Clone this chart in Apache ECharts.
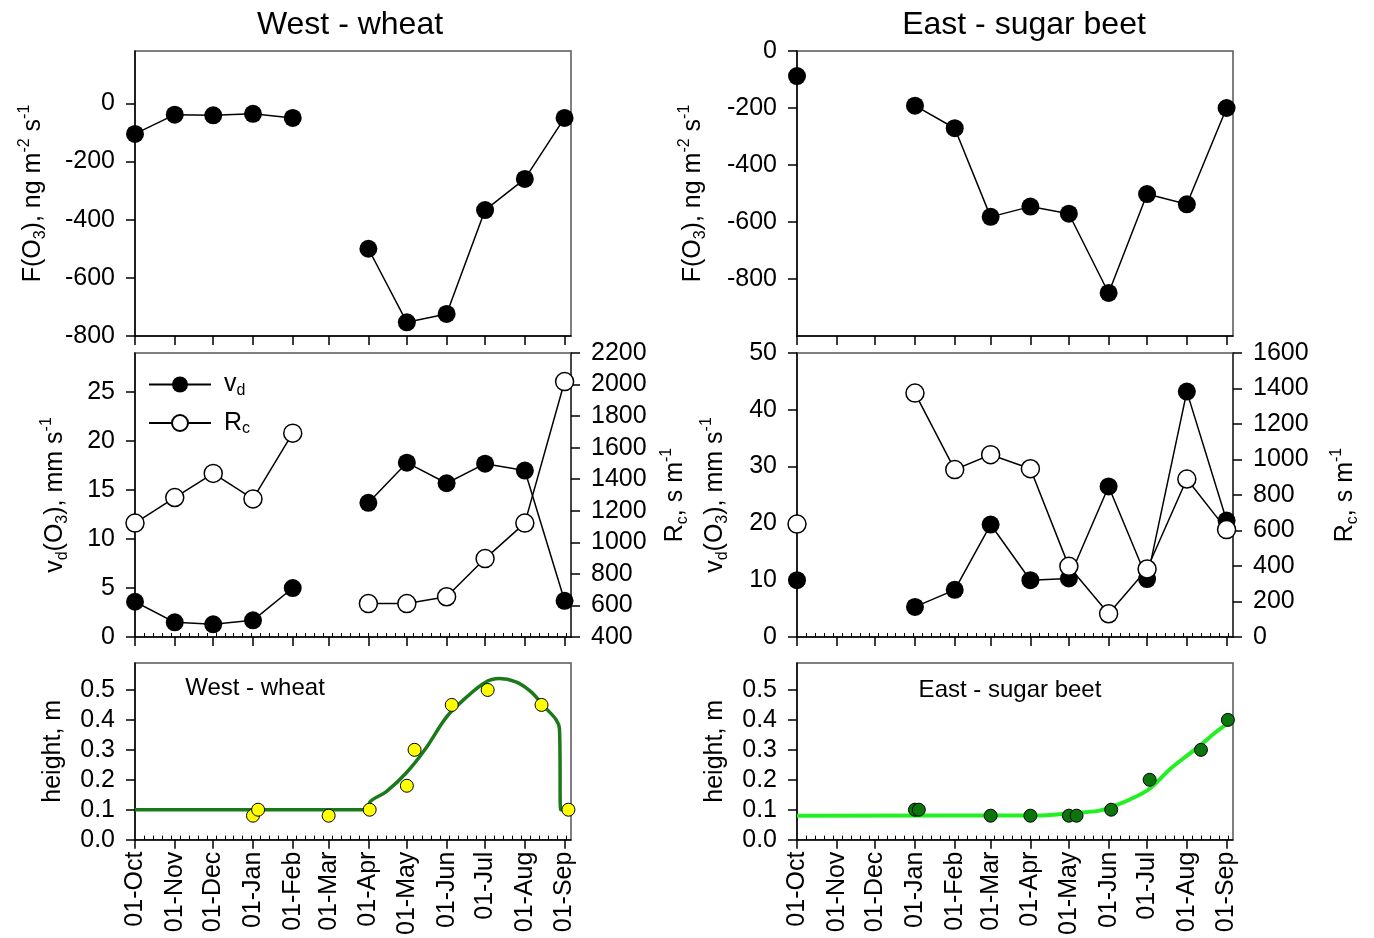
<!DOCTYPE html>
<html>
<head>
<meta charset="utf-8">
<script src="https://cdn.jsdelivr.net/npm/echarts@6/dist/echarts.min.js"></script>
<style>
  html, body { margin: 0; padding: 0; background: #fff; }
  #chart { width: 1374px; height: 938px; }
</style>
</head>
<body>
<div id="chart"></div>
<script>
// months the fluxes are given for (monthly means plotted at the 1st)
var months = ['2010-10-01', '2010-11-01', '2010-12-01', '2011-01-01', '2011-02-01', '2011-03-01',
  '2011-04-01', '2011-05-01', '2011-06-01', '2011-07-01', '2011-08-01', '2011-09-01'];

// West - wheat
var westFlux = [-105, -39, -41, -36, -50, null, -500, -753, -724, -367, -260, -50];
var westVd = [3.6, 1.5, 1.3, 1.7, 5.0, null, 13.7, 17.8, 15.7, 17.7, 17.0, 3.7];
var westRc = [1122, 1284, 1437, 1275, 1692, null, 612, 612, 655, 897, 1122, 2019];

// East - sugar beet
var eastFlux = [-88, null, null, -192, -271, -582, -546, -571, -849, -502, -538, -200];
var eastVd = [10.0, null, null, 5.3, 8.3, 19.8, 10.0, 10.3, 26.5, 10.2, 43.2, 20.5];
var eastRc = [636, null, null, 1374, 943, 1027, 948, 398, 131, 383, 890, 605];

// canopy height, observations
var westObsDates = ['2011-01-01', '2011-01-05', '2011-03-01', '2011-04-02', '2011-05-01',
  '2011-05-07', '2011-06-05', '2011-07-03', '2011-08-14', '2011-09-04'];
var westObsH = [0.08, 0.10, 0.08, 0.10, 0.18, 0.30, 0.45, 0.50, 0.45, 0.10];
var eastObsDates = ['2011-01-01', '2011-01-04', '2011-03-01', '2011-04-01', '2011-05-01',
  '2011-05-07', '2011-06-03', '2011-07-03', '2011-08-12', '2011-09-02'];
var eastObsH = [0.10, 0.10, 0.08, 0.08, 0.08, 0.08, 0.10, 0.20, 0.30, 0.40];

// canopy height, fitted curves
var westFitDates = ['2010-10-01', '2011-04-01', '2011-04-02', '2011-04-15', '2011-05-01', '2011-05-15',
  '2011-06-01', '2011-06-15', '2011-07-01', '2011-07-12', '2011-07-25', '2011-08-05', '2011-08-14',
  '2011-08-28', '2011-08-29', '2011-09-01'];
var westFitH = [0.10, 0.10, 0.125, 0.16, 0.225, 0.30, 0.41, 0.47, 0.525, 0.538, 0.527, 0.497, 0.455,
  0.37, 0.10, 0.10];
var eastFitDates = ['2010-10-01', '2011-04-10', '2011-05-04', '2011-05-24', '2011-06-03', '2011-06-18',
  '2011-07-03', '2011-07-19', '2011-08-04', '2011-08-12', '2011-08-23', '2011-09-04'];
var eastFitH = [0.08, 0.081, 0.089, 0.096, 0.109, 0.135, 0.17, 0.236, 0.29, 0.317, 0.357, 0.395];

// x axis ticks
var tickDates = months;
var tickLabels = ['01-Oct', '01-Nov', '01-Dec', '01-Jan', '01-Feb', '01-Mar', '01-Apr', '01-May',
  '01-Jun', '01-Jul', '01-Aug', '01-Sep'];
var xStart = '2010-10-01';
var xEnd = '2011-09-06';

var FONT = '"Liberation Sans", Arial, sans-serif';
var chart = echarts.init(document.getElementById('chart'));

// dates -> days since xStart (the x axis is a plain value axis in days)
function day(s) {
  var p = s.split('-');
  var a = Date.UTC(+p[0], +p[1] - 1, +p[2]);
  var q = xStart.split('-');
  var b = Date.UTC(+q[0], +q[1] - 1, +q[2]);
  return Math.round((a - b) / 86400000);
}
var tickDays = tickDates.map(day);
// weekly minor ticks
var weekDays = [];
for (var w = 7; w < day(xEnd); w += 7) weekDays.push(w);

function pairs(dates, vals) {
  return dates.map(function (d, i) { return [day(d), vals[i] == null ? '-' : vals[i]]; });
}

var grids = [
  { left: 135, top: 51, width: 436, height: 285 },
  { left: 135, top: 353, width: 436, height: 284 },
  { left: 135, top: 663, width: 436, height: 180 },
  { left: 797, top: 51, width: 436, height: 285 },
  { left: 797, top: 353, width: 436, height: 284 },
  { left: 797, top: 663, width: 436, height: 180 }
].map(function (g) {
  g.show = true; g.borderColor = '#555'; g.borderWidth = 1.5; g.containLabel = false;
  return g;
});

function xAxis(gi, labels) {
  return {
    type: 'value', gridIndex: gi, min: 0, max: day(xEnd),
    axisLine: { onZero: false, lineStyle: { color: '#000', width: 1.5 } },
    axisTick: { show: true, customValues: tickDays, length: 9, lineStyle: { color: '#000', width: 1.5 } },
    axisLabel: {
      show: labels, customValues: tickDays, rotate: 90, margin: 12,
      fontSize: 25, color: '#000', fontFamily: FONT,
      formatter: function (v) {
        var i = tickDays.indexOf(Math.round(v));
        return i < 0 ? '' : tickLabels[i];
      }
    },
    splitLine: { show: false }
  };
}

// inner minor ticks along the bottom axis
function minorX(gi) {
  return {
    type: 'value', gridIndex: gi, min: 0, max: day(xEnd), position: 'bottom',
    axisLine: { show: false, onZero: false },
    axisTick: { show: true, inside: true, customValues: weekDays, length: 4, lineStyle: { color: '#000', width: 1 } },
    axisLabel: { show: false },
    splitLine: { show: false }
  };
}

var nameStyle = {
  fontSize: 25, color: '#000', fontFamily: FONT, lineHeight: 32,
  rich: {
    sub: { fontSize: 16, lineHeight: 14, verticalAlign: 'bottom', fontFamily: FONT, color: '#000' },
    sup: { fontSize: 16, lineHeight: 16, verticalAlign: 'top', fontFamily: FONT, color: '#000' }
  }
};

function yAxis(gi, o) {
  var ticks = [];
  for (var v = o.t0; v <= o.t1 + 1e-9; v += o.step) ticks.push(+v.toFixed(3));
  return {
    type: 'value', gridIndex: gi, min: o.min, max: o.max, position: o.pos || 'left',
    name: o.name, nameLocation: 'middle', nameRotate: 90, nameGap: o.gap, nameTextStyle: nameStyle,
    axisLine: { show: true, onZero: false, lineStyle: { color: o.pos === 'right' ? '#333' : '#000', width: 1.5 } },
    axisTick: { show: true, customValues: ticks, length: 9, lineStyle: { color: '#000', width: 1.5 } },
    axisLabel: {
      customValues: ticks, margin: 20, fontSize: 25, color: '#000', fontFamily: FONT,
      formatter: o.fmt || function (v) { return String(v); }
    },
    splitLine: { show: false }
  };
}

var fluxName = 'F(O{sub|3}), ng m{sup|-2} s{sup|-1}';
var vdName = 'v{sub|d}(O{sub|3}), mm s{sup|-1}';
var rcName = 'R{sub|c}, s m{sup|-1}';
var hName = 'height, m';
var hFmt = function (v) { return v.toFixed(1); };

var dotSeries = function (name, x, y, dates, vals, open) {
  return {
    name: name, type: 'line', xAxisIndex: x, yAxisIndex: y, data: pairs(dates, vals),
    symbol: 'circle', symbolSize: 18, connectNulls: false,
    lineStyle: { color: '#000', width: 1.5 },
    itemStyle: open ? { color: '#fff', borderColor: '#000', borderWidth: 1.5 } : { color: '#000' },
    z: open ? 4 : 3
  };
};

var option = {
  animation: false,
  backgroundColor: '#fff',
  textStyle: { fontFamily: FONT },
  grid: grids,
  xAxis: [xAxis(0, false), xAxis(1, false), xAxis(2, true), xAxis(3, false), xAxis(4, false), xAxis(5, true),
    minorX(1), minorX(2), minorX(4), minorX(5)],
  yAxis: [
    yAxis(0, { min: -800, max: 180, t0: -800, t1: 0, step: 200, name: fluxName, gap: 86 }),
    yAxis(1, { min: 0, max: 29, t0: 0, t1: 25, step: 5, name: vdName, gap: 64 }),
    yAxis(1, { min: 400, max: 2200, t0: 400, t1: 2200, step: 200, name: rcName, gap: 88, pos: 'right' }),
    yAxis(2, { min: 0, max: 0.59, t0: 0, t1: 0.5, step: 0.1, name: hName, gap: 66, fmt: hFmt }),
    yAxis(3, { min: -1000, max: 0, t0: -800, t1: 0, step: 200, name: fluxName, gap: 88 }),
    yAxis(4, { min: 0, max: 50, t0: 0, t1: 50, step: 10, name: vdName, gap: 66 }),
    yAxis(4, { min: 0, max: 1600, t0: 0, t1: 1600, step: 200, name: rcName, gap: 96, pos: 'right' }),
    yAxis(5, { min: 0, max: 0.59, t0: 0, t1: 0.5, step: 0.1, name: hName, gap: 66, fmt: hFmt })
  ],
  legend: {
    data: ['vd', 'Rc'], orient: 'vertical', left: 143, top: 367,
    itemWidth: 62, itemHeight: 20, itemGap: 12,
    formatter: function (n) { return n === 'vd' ? '{m|v}{s|d}' : '{m|R}{s|c}'; },
    textStyle: {
      rich: {
        m: { fontSize: 25, lineHeight: 28, color: '#000', fontFamily: FONT, padding: [0, 0, 0, 8] },
        s: { fontSize: 16, lineHeight: 12, verticalAlign: 'bottom', color: '#000', fontFamily: FONT }
      }
    }
  },
  graphic: [
    { type: 'text', x: 350, y: 25, style: { text: 'West - wheat', font: '32px ' + FONT, fill: '#000', textAlign: 'center', textVerticalAlign: 'middle' } },
    { type: 'text', x: 1024, y: 25, style: { text: 'East - sugar beet', font: '32px ' + FONT, fill: '#000', textAlign: 'center', textVerticalAlign: 'middle' } },
    { type: 'text', x: 255, y: 688, style: { text: 'West - wheat', font: '24px ' + FONT, fill: '#000', textAlign: 'center', textVerticalAlign: 'middle' } },
    { type: 'text', x: 1010, y: 690, style: { text: 'East - sugar beet', font: '24px ' + FONT, fill: '#000', textAlign: 'center', textVerticalAlign: 'middle' } }
  ],
  series: [
    dotSeries('F-west', 0, 0, months, westFlux, false),
    dotSeries('vd', 1, 1, months, westVd, false),
    dotSeries('Rc', 1, 2, months, westRc, true),
    {
      name: 'hfit-west', type: 'line', xAxisIndex: 2, yAxisIndex: 3, data: pairs(westFitDates, westFitH),
      symbol: 'none', smooth: 0.35, lineStyle: { color: '#1a7a1a', width: 3.5 }, z: 2
    },
    {
      name: 'hobs-west', type: 'scatter', xAxisIndex: 2, yAxisIndex: 3, data: pairs(westObsDates, westObsH),
      symbolSize: 13, itemStyle: { color: '#ffff00', opacity: 1, borderColor: '#000', borderWidth: 1 }, z: 3
    },
    dotSeries('F-east', 3, 4, months, eastFlux, false),
    dotSeries('vd-east', 4, 5, months, eastVd, false),
    dotSeries('Rc-east', 4, 6, months, eastRc, true),
    {
      name: 'hfit-east', type: 'line', xAxisIndex: 5, yAxisIndex: 7, data: pairs(eastFitDates, eastFitH),
      symbol: 'none', smooth: 0.35, lineStyle: { color: '#22f022', width: 4 }, z: 2
    },
    {
      name: 'hobs-east', type: 'scatter', xAxisIndex: 5, yAxisIndex: 7, data: pairs(eastObsDates, eastObsH),
      symbolSize: 13, itemStyle: { color: '#0c760c', opacity: 1, borderColor: '#000', borderWidth: 1 }, z: 3
    }
  ]
};

chart.setOption(option);
</script>
</body>
</html>
